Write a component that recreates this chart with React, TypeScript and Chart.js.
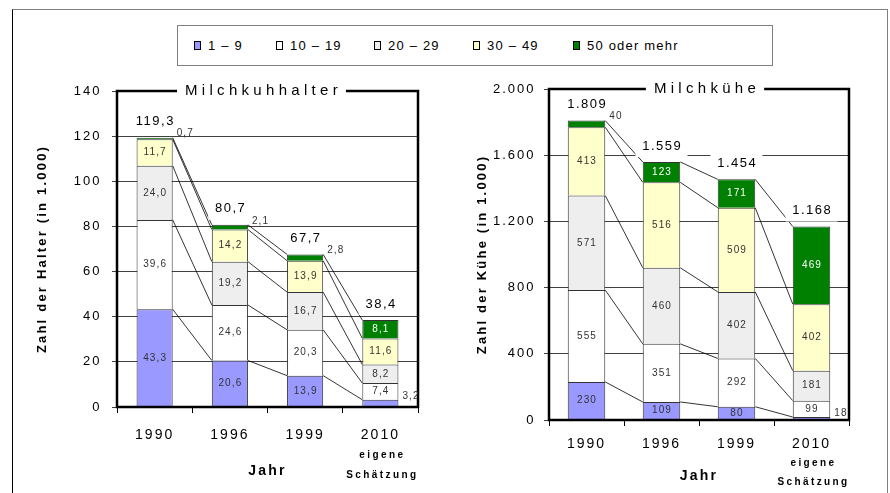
import React, { useEffect, useRef } from 'react';
import { Chart, registerables } from 'chart.js';

Chart.register(...registerables);

const FONT = '"Liberation Sans", Arial, Helvetica, sans-serif';
Chart.defaults.font.family = FONT;
Chart.defaults.color = '#000';

// ---------- data ----------
const categories = ['1990', '1996', '1999', '2010'];
const seriesNames = ['1 – 9', '10 – 19', '20 – 29', '30 – 49', '50 oder mehr'];
const seriesColors = ['#9999FF', '#FFFFFF', '#EEEEEE', '#FFFFCC', '#008000'];

const halter1to9 = [43.3, 20.6, 13.9, 3.2];
const halter10to19 = [39.6, 24.6, 20.3, 7.4];
const halter20to29 = [24.0, 19.2, 16.7, 8.2];
const halter30to49 = [11.7, 14.2, 13.9, 11.6];
const halter50plus = [0.7, 2.1, 2.8, 8.1];
const halterTotals = [119.3, 80.7, 67.7, 38.4];
const halterTickLabels = ['0', '20', '40', '60', '80', '100', '120', '140'];

const kuehe1to9 = [230, 109, 80, 18];
const kuehe10to19 = [555, 351, 292, 99];
const kuehe20to29 = [571, 460, 402, 181];
const kuehe30to49 = [413, 516, 509, 402];
const kuehe50plus = [40, 123, 171, 469];
const kueheTotals = [1809, 1559, 1454, 1168];
const kueheTickLabels = ['0', '400', '800', '1.200', '1.600', '2.000'];

const estimateNote = ['eigene', 'Schätzung'];

// ---------- helpers ----------
const fmtDec = (v: number) => v.toFixed(1).replace('.', ',');
const fmtInt = (v: number) => String(Math.round(v)).replace(/\B(?=(\d{3})+(?!\d))/g, '.');

type Panel = {
  title: string;
  titleDx: number;
  yTitle: string;
  series: number[][];
  totals: number[];
  fmt: (v: number) => string;
  yMax: number;
  yStep: number;
  yTickLabels: string[];
  width: number;
  padRight: number;
  padTop: number;
  yWidth: number;
  xHeight: number;
  barPct: number;
  xTickPad: number;
  yTickPad: number;
  yTitlePad: number;
  xTitlePad: number;
  noteY: number[];
};

const leftPanel: Panel = {
  title: 'Milchkuhhalter',
  titleDx: -6,
  yTitle: 'Zahl der Halter (in 1.000)',
  series: [halter1to9, halter10to19, halter20to29, halter30to49, halter50plus],
  totals: halterTotals,
  fmt: fmtDec,
  yMax: 140,
  yStep: 20,
  yTickLabels: halterTickLabels,
  width: 445,
  padRight: 27,
  padTop: 91,
  yWidth: 117,
  xHeight: 86,
  barPct: 0.48,
  xTickPad: 13.6,
  yTickPad: 10.5,
  yTitlePad: 34.2,
  xTitlePad: 13.6,
  noteY: [455, 475],
};

const rightPanel: Panel = {
  title: 'Milchkühe',
  titleDx: 6,
  yTitle: 'Zahl der Kühe (in 1.000)',
  series: [kuehe1to9, kuehe10to19, kuehe20to29, kuehe30to49, kuehe50plus],
  totals: kueheTotals,
  fmt: fmtInt,
  yMax: 2000,
  yStep: 400,
  yTickLabels: kueheTickLabels,
  width: 445,
  padRight: 41,
  padTop: 89,
  yWidth: 104,
  xHeight: 73,
  barPct: 0.5,
  xTickPad: 9.6,
  yTickPad: 8.5,
  yTitlePad: 29.2,
  xTitlePad: 8.6,
  noteY: [463, 482],
};

function decorPlugin(p: Panel) {
  return {
    id: 'panelDecor',
    beforeDraw(chart: any) {
      chart.ctx.letterSpacing = '2.2px';
    },
    afterDatasetsDraw(chart: any) {
      const ctx = chart.ctx;
      const a = chart.chartArea;
      const n = chart.data.datasets.length;
      ctx.save();

      // connector lines between segment tops
      ctx.strokeStyle = '#000';
      ctx.lineWidth = 0.8;
      for (let i = 0; i < n; i++) {
        const m = chart.getDatasetMeta(i);
        for (let j = 0; j < m.data.length - 1; j++) {
          const e1 = m.data[j];
          const e2 = m.data[j + 1];
          ctx.beginPath();
          ctx.moveTo(e1.x + e1.width / 2, e1.y);
          ctx.lineTo(e2.x - e2.width / 2, e2.y);
          ctx.stroke();
        }
      }

      // plot frame
      ctx.lineWidth = 2.5;
      ctx.strokeStyle = '#000';
      ctx.strokeRect(a.left, a.top, a.right - a.left, a.bottom - a.top);

      // totals with white boxes
      const topMeta = chart.getDatasetMeta(n - 1);
      ctx.font = `13px ${FONT}`;
      ctx.letterSpacing = '1.5px';
      ctx.textAlign = 'center';
      ctx.textBaseline = 'middle';
      p.totals.forEach((t, j) => {
        const el = topMeta.data[j];
        const txt = p.fmt(t);
        const tw = ctx.measureText(txt).width;
        const cy = el.y - 16;
        ctx.fillStyle = '#fff';
        ctx.fillRect(el.x - tw / 2 - 6, cy - 11, tw + 12, 22);
        ctx.fillStyle = '#000';
        ctx.fillText(txt, el.x + 0.75, cy);
      });

      // segment labels
      ctx.font = `10px ${FONT}`;
      ctx.letterSpacing = '1.1px';
      for (let i = 0; i < n; i++) {
        const m = chart.getDatasetMeta(i);
        const data = chart.data.datasets[i].data;
        m.data.forEach((el: any, j: number) => {
          const txt = p.fmt(data[j]);
          const h = el.base - el.y;
          if (h >= 10) {
            ctx.textAlign = 'center';
            ctx.fillStyle = i === n - 1 ? '#fff' : '#333';
            ctx.fillText(txt, el.x + 0.5, (el.y + el.base) / 2);
          } else {
            ctx.textAlign = 'left';
            ctx.fillStyle = '#333';
            ctx.fillText(txt, el.x + el.width / 2 + 4, el.y - 4);
          }
        });
      }

      // panel title sitting on the top frame line
      ctx.font = `15px ${FONT}`;
      ctx.letterSpacing = '4.3px';
      ctx.textAlign = 'center';
      const tw = ctx.measureText(p.title).width;
      const cx = (a.left + a.right) / 2 + p.titleDx;
      ctx.fillStyle = '#fff';
      ctx.fillRect(cx - tw / 2 - 6, a.top - 10, tw + 12, 20);
      ctx.fillStyle = '#000';
      ctx.fillText(p.title, cx + 2, a.top);

      // estimate note under last category
      const xs = chart.scales.x;
      const lx = xs.getPixelForValue(categories.length - 1) + 2;
      ctx.font = `bold 10px ${FONT}`;
      ctx.letterSpacing = '2.4px';
      estimateNote.forEach((s, k) => ctx.fillText(s, lx, p.noteY[k]));

      ctx.restore();
      ctx.letterSpacing = '2px';
    },
  };
}

function buildChart(canvas: HTMLCanvasElement, p: Panel) {
  return new Chart(canvas, {
    type: 'bar',
    data: {
      labels: categories,
      datasets: p.series.map((vals, i) => ({
        label: seriesNames[i],
        data: vals,
        backgroundColor: seriesColors[i],
        borderColor: '#333',
        borderWidth: 1,
        borderSkipped: 'start',
        categoryPercentage: 1,
        barPercentage: p.barPct,
      })),
    },
    options: {
      responsive: false,
      maintainAspectRatio: false,
      animation: false,
      events: [],
      layout: { padding: { left: 0, right: p.padRight, top: p.padTop, bottom: 0 } },
      plugins: { legend: { display: false }, tooltip: { enabled: false }, title: { display: false } },
      scales: {
        x: {
          stacked: true,
          offset: true,
          afterFit: (s: any) => { s.height = p.xHeight; },
          border: { display: false },
          grid: { drawOnChartArea: false, drawTicks: true, tickLength: 6, color: '#000', lineWidth: 1 },
          ticks: { z: 1, color: '#000', font: { size: 14 }, padding: p.xTickPad, autoSkip: false, maxRotation: 0 },
          title: { display: true, text: 'Jahr', color: '#000', font: { size: 14, weight: 'bold' }, padding: { top: 0, bottom: p.xTitlePad } },
        },
        y: {
          stacked: true,
          min: 0,
          max: p.yMax,
          afterFit: (s: any) => { s.width = p.yWidth; },
          border: { display: false },
          grid: { color: '#404040', lineWidth: 1, drawTicks: true, tickLength: 5 },
          ticks: {
            z: 1,
            stepSize: p.yStep,
            color: '#000',
            font: { size: 13 },
            padding: p.yTickPad,
            callback: (_v: any, i: number) => p.yTickLabels[i],
          },
          title: { display: true, text: p.yTitle, color: '#000', font: { size: 13, weight: 'bold' }, padding: { top: p.yTitlePad, bottom: 0 } },
        },
      },
    } as any,
    plugins: [decorPlugin(p)],
  });
}

function Panel({ p, left }: { p: Panel; left: number }) {
  const ref = useRef<HTMLCanvasElement>(null);
  useEffect(() => {
    const c = buildChart(ref.current!, p);
    return () => c.destroy();
  }, []);
  return (
    <canvas
      ref={ref}
      width={p.width}
      height={493}
      style={{ position: 'absolute', left, top: 0, width: p.width, height: 493 }}
    />
  );
}

const legendLefts = [16, 98, 196, 295, 395];

export default function App() {
  return (
    <div style={{ position: 'absolute', left: 0, top: 0, width: 890, height: 493, overflow: 'hidden', background: '#fff' }}>
      <div
        style={{
          position: 'absolute', left: 12, top: 9, width: 876, height: 520, boxSizing: 'border-box',
          borderLeft: '1px solid #000', borderTop: '1px solid #808080', borderRight: '1px solid #808080',
        }}
      />
      <Panel p={leftPanel} left={0} />
      <Panel p={rightPanel} left={445} />
      <div
        style={{
          position: 'absolute', left: 177, top: 25, width: 596, height: 41, boxSizing: 'border-box',
          border: '1px solid #808080', background: '#fff', fontFamily: FONT, fontSize: 13, letterSpacing: '1.2px',
        }}
      >
        {seriesNames.map((name, i) => (
          <div key={name} style={{ position: 'absolute', left: legendLefts[i], top: 14, height: 11, display: 'flex', alignItems: 'center', whiteSpace: 'nowrap' }}>
            <span style={{ display: 'inline-block', width: 7, height: 9, boxSizing: 'border-box', border: '1px solid #000', background: seriesColors[i], marginRight: 7 }} />
            <span style={{ lineHeight: '11px' }}>{name}</span>
          </div>
        ))}
      </div>
    </div>
  );
}
